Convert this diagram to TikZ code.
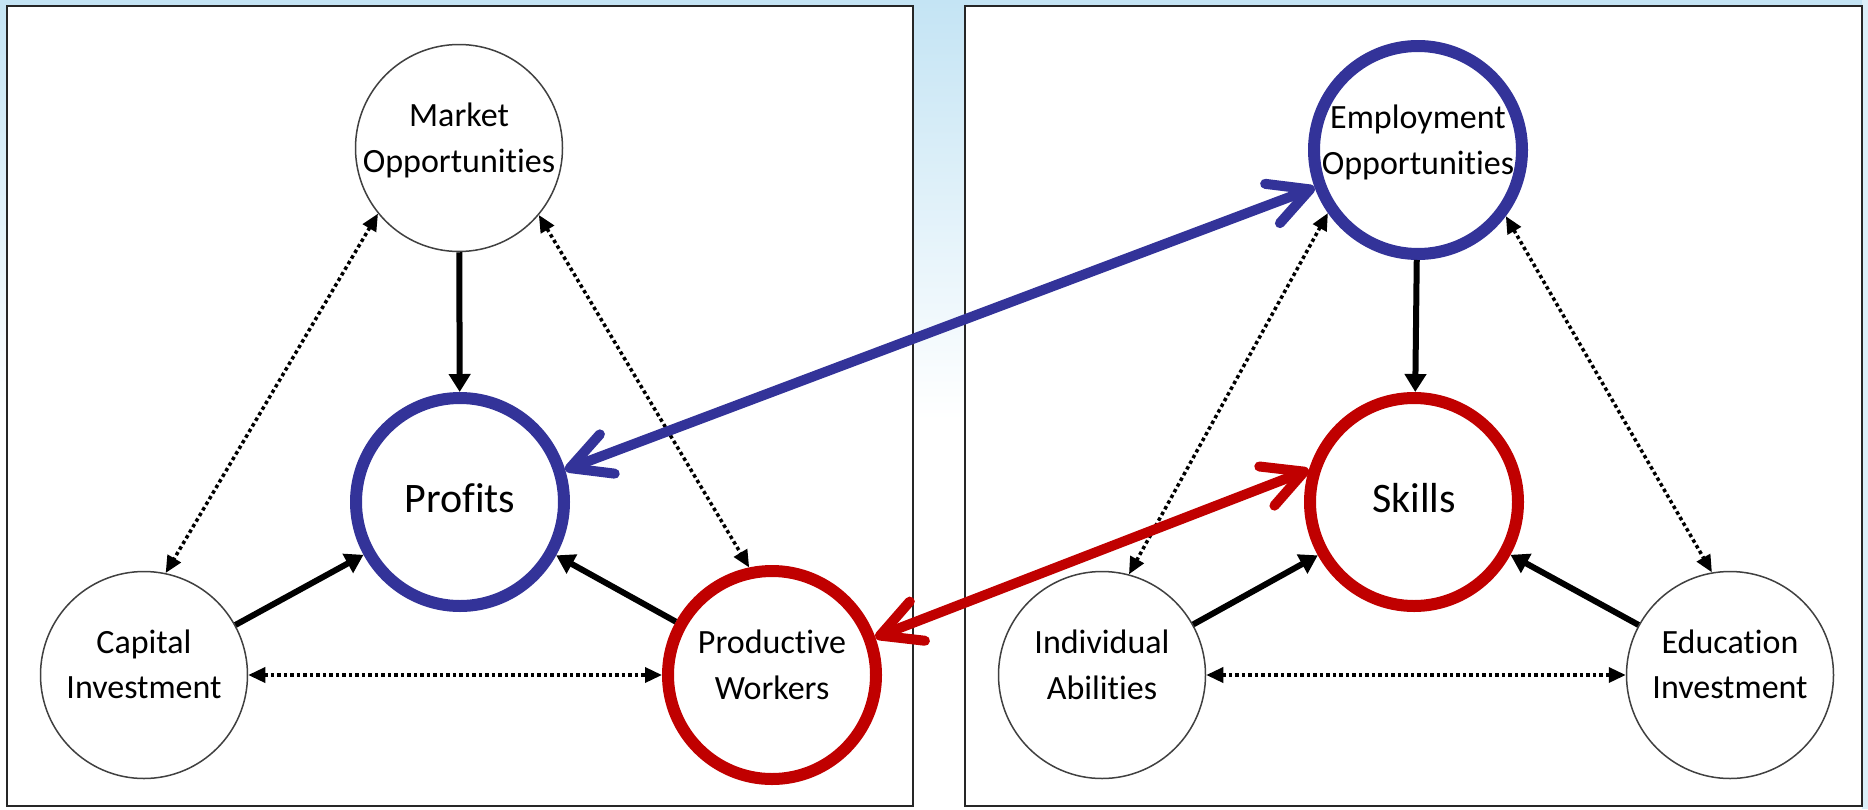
\documentclass[tikz,border=0pt]{standalone}
\usepackage{fontspec}
\setmainfont{Carlito}[Ligatures=NoCommon]
\usetikzlibrary{arrows.meta}
\definecolor{rblue}{RGB}{51,51,153}
\definecolor{rred}{RGB}{192,0,0}
\definecolor{skyb}{RGB}{196,228,244}
\newcommand{\mystrut}{\rule[-21.5pt]{0pt}{43pt}}
\newcommand{\mybigstrut}{\rule[-12pt]{0pt}{44pt}}
\begin{document}
\begin{tikzpicture}[x=1pt,y=-1pt,
  panel/.style={draw=black!85, line width=2.5pt, fill=white},
  bub/.style={circle, draw=black!75, line width=1.5pt, fill=white, minimum size=207pt, inner sep=0pt},
  bluering/.style={circle, draw=rblue, line width=12pt, fill=white, minimum size=208pt, inner sep=0pt},
  redring/.style={circle, draw=rred, line width=12pt, fill=white, minimum size=208pt, inner sep=0pt},
  lbl/.style={align=center, inner sep=0pt, font=\fontsize{34}{43}\selectfont},
  biglbl/.style={align=center, inner sep=0pt, font=\fontsize{42}{50}\selectfont},
  solidarr/.style={draw=black, line width=6pt, -{Triangle[length=18pt,width=21pt]}},
  dotarr/.style={draw=black, line width=3.5pt, dash pattern=on 3.5pt off 3pt,
     {Triangle[length=17pt,width=15pt]}-{Triangle[length=17pt,width=15pt]}},
  bluearr/.style={draw=rblue, line width=10pt,
     {Straight Barb[length=40pt,width=42pt,line cap=round,line join=round]}-{Straight Barb[length=40pt,width=42pt,line cap=round,line join=round]}},
  redarr/.style={draw=rred, line width=10pt,
     {Straight Barb[length=40pt,width=42pt,line cap=round,line join=round]}-{Straight Barb[length=40pt,width=42pt,line cap=round,line join=round]}}
]
\useasboundingbox (0,0) rectangle (1868,809);
\fill[white] (0,0) rectangle (1868,809);
\shade[top color=skyb, bottom color=white] (0,0) rectangle (1868,420);
\fill[skyb!60] (1862,0) rectangle (1868,809);
\draw[panel] (7,6) rectangle (913,806);
\draw[panel] (965,6) rectangle (1862,806);

% left panel
\node[bub] (mkt) at (459,148) {};
\node[lbl] (mkt-t) at (mkt) {\mystrut Market\\\mystrut Opportunities};
\node[bluering] (prof) at (460,502) {};
\node[biglbl] (prof-t) at (prof) {\mybigstrut Profits};
\node[bub] (cap) at (144,675) {};
\node[lbl] (cap-t) at (cap) {\mystrut Capital\\\mystrut Investment};
\node[redring] (prod) at (772,675) {};
\node[lbl] (prod-t) at (prod) {\mystrut Productive\\\mystrut Workers};

% right panel
\node[bluering] (emp) at (1418,150) {};
\node[lbl] (emp-t) at (emp) {\mystrut Employment\\\mystrut Opportunities};
\node[redring] (skl) at (1414,502) {};
\node[biglbl] (skl-t) at (skl) {\mybigstrut Skills};
\node[bub] (ind) at (1102,675) {};
\node[lbl] (ind-t) at (ind) {\mystrut Individual\\\mystrut Abilities};
\node[bub] (edu) at (1730,675) {};
\node[lbl] (edu-t) at (edu) {\mystrut Education\\\mystrut Investment};

% solid arrows
\draw[solidarr] (mkt) -- (prof);
\draw[solidarr] (cap) -- (prof);
\draw[solidarr] (prod) -- (prof);
\draw[solidarr] (emp) -- (skl);
\draw[solidarr] (ind) -- (skl);
\draw[solidarr] (edu) -- (skl);

% dotted arrows
\draw[dotarr] (mkt.219) -- (cap.78);
\draw[dotarr] (mkt.320) -- (prod.102);
\draw[dotarr] (cap) -- (prod);
\draw[dotarr] (emp.215) -- (ind.75);
\draw[dotarr] (emp.323) -- (edu.100);
\draw[dotarr] (ind) -- (edu);

% cross-panel arrows
\draw[bluearr] (prof.17) -- (emp.200);
\draw[redarr] (prod.20) -- (skl.163);
\end{tikzpicture}
\end{document}
